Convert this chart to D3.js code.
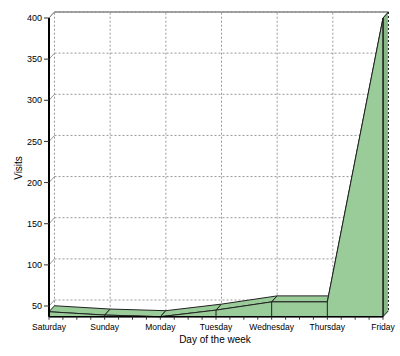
<!DOCTYPE html>
<html><head><meta charset="utf-8">
<script src="https://cdn.jsdelivr.net/npm/d3@7"></script>
<style>html,body{margin:0;padding:0;background:#fff;}svg{display:block;font-family:"Liberation Sans",Arial,sans-serif;}</style>
</head><body>
<svg id="c" width="400" height="356"></svg>
<script>
const days = ["Saturday","Sunday","Monday","Tuesday","Wednesday","Thursday","Friday"];
const visits = [43, 39, 37, 45, 55, 55, 400];
const yTicks = [50,100,150,200,250,300,350,400];
const yMin = 37, yMax = 400;

const svg = d3.select("#c");
const x = d3.scalePoint().domain(days).range([49, 383]);
const y = d3.scaleLinear().domain([yMin, yMax]).range([316.7, 18]);
const dx = 5.5, dy = -6;
const fill = "#99cc99", side = "#86b986", stroke = "#222";
const x0 = x(days[0]), x1 = x(days[days.length-1]);

// back plane grid
const g = svg.append("g");
yTicks.forEach(t => {
  g.append("line").attr("x1", x0+dx).attr("x2", x1+dx).attr("y1", y(t)+dy).attr("y2", y(t)+dy)
    .attr("stroke", "#999").attr("stroke-dasharray", "2,2");
  g.append("line").attr("x1", x0).attr("x2", x0+dx).attr("y1", y(t)).attr("y2", y(t)+dy)
    .attr("stroke", "#999");
});
days.forEach(d => {
  g.append("line").attr("x1", x(d)+dx).attr("x2", x(d)+dx).attr("y1", y(yMin)+dy).attr("y2", y(yMax)+dy)
    .attr("stroke", "#999").attr("stroke-dasharray", "2,2");
});
// back top border
g.append("line").attr("x1", x0+dx).attr("x2", x1+dx).attr("y1", y(yMax)+dy).attr("y2", y(yMax)+dy)
  .attr("stroke", "#888").attr("stroke-width", 1.5);
g.append("line").attr("x1", x0).attr("x2", x0+dx).attr("y1", y(yMax)).attr("y2", y(yMax)+dy)
  .attr("stroke", "#888");

// top surfaces
const pts = days.map((d,i) => ({x: x(d), y: y(visits[i])}));
for (let i = 0; i < pts.length-1; i++) {
  const a = pts[i], b = pts[i+1];
  const poly = [[a.x,a.y],[b.x,b.y],[b.x+dx,b.y+dy],[a.x+dx,a.y+dy]];
  svg.append("polygon").attr("points", poly.map(p=>p.join(",")).join(" "))
    .attr("fill", fill).attr("stroke", stroke).attr("stroke-width", 1).attr("stroke-linejoin","round");
}
// right side face
const last = pts[pts.length-1], yb = y(yMin);
svg.append("polygon").attr("points", [[last.x,last.y],[last.x+dx,last.y+dy],[last.x+dx,yb+dy],[last.x,yb]].map(p=>p.join(",")).join(" "))
  .attr("fill", side).attr("stroke", stroke).attr("stroke-width", 1);
svg.append("line").attr("x1", last.x+dx).attr("x2", last.x+dx).attr("y1", last.y+dy).attr("y2", yb+dy)
  .attr("stroke", "#fff").attr("stroke-width", 1.2).attr("stroke-dasharray", "2,2").attr("stroke-dashoffset", 2);

// front face
const area = d3.area().x(d => x(d.day)).y0(yb).y1(d => y(d.v));
const data = days.map((d,i) => ({day: d, v: visits[i]}));
svg.append("path").attr("d", area(data)).attr("fill", fill).attr("stroke", stroke).attr("stroke-width", 1);
data.forEach(d => {
  svg.append("line").attr("x1", x(d.day)).attr("x2", x(d.day)).attr("y1", y(d.v)).attr("y2", yb)
    .attr("stroke", stroke).attr("stroke-width", 1);
});

// axes
svg.append("line").attr("x1", x0).attr("x2", x0).attr("y1", y(yMax)).attr("y2", yb)
  .attr("stroke", "#000").attr("stroke-width", 2);
svg.append("line").attr("x1", x0).attr("x2", x1).attr("y1", yb).attr("y2", yb)
  .attr("stroke", "#000").attr("stroke-width", 1.5);
yTicks.forEach(t => {
  svg.append("line").attr("x1", x0-5).attr("x2", x0).attr("y1", y(t)).attr("y2", y(t)).attr("stroke", "#333");
  svg.append("text").attr("x", x0-7).attr("y", y(t)).attr("dy", "0.35em").attr("text-anchor", "end")
    .attr("font-size", "9px").attr("fill", "#000").text(t);
});
const step = x.step();
for (let i = 0; i < days.length; i++) {
  for (let k = 0; k < 4; k++) {
    if (i === days.length-1 && k > 0) break;
    const xx = x(days[i]) + k*step/4;
    svg.append("line").attr("x1", xx).attr("x2", xx).attr("y1", yb).attr("y2", yb+3).attr("stroke", "#333");
  }
}
days.forEach(d => {
  svg.append("text").attr("x", x(d)).attr("y", 330).attr("text-anchor", "middle")
    .attr("font-size", "8.5px").attr("fill", "#000").text(d);
});
svg.append("text").attr("x", 215).attr("y", 343).attr("text-anchor", "middle")
  .attr("font-size", "10px").attr("fill", "#000").text("Day of the week");
svg.append("text").attr("transform", "translate(22,168) rotate(-90)").attr("text-anchor", "middle")
  .attr("font-size", "10px").attr("fill", "#000").text("Visits");
</script>
</body></html>
